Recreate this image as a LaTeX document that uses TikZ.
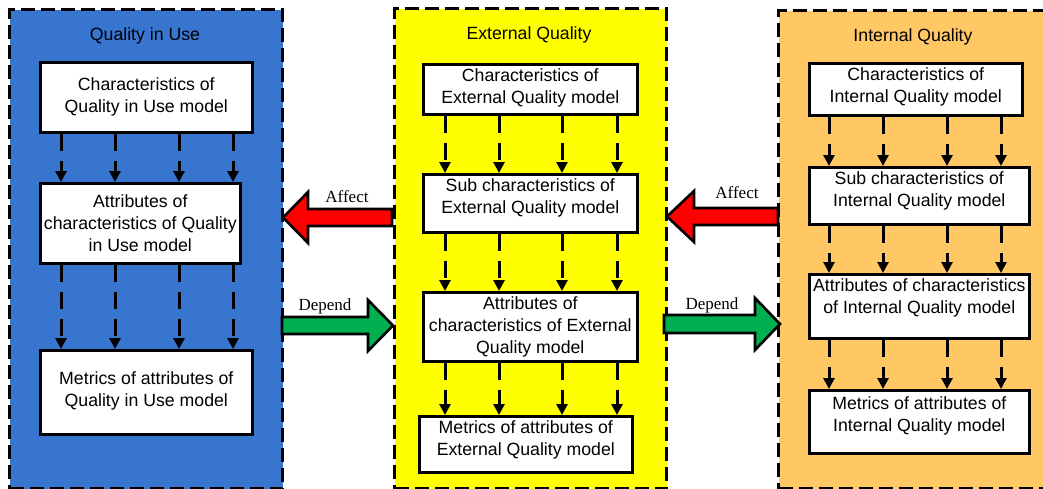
\documentclass[tikz,border=0pt]{standalone}
\usepackage{fontspec}
\setmainfont{Liberation Sans}
\newfontfamily\serifft{Liberation Serif}
\usetikzlibrary{arrows.meta}
\definecolor{qblue}{HTML}{3775CE}
\definecolor{qyellow}{HTML}{FFFF00}
\definecolor{qorange}{HTML}{FFC864}
\definecolor{qred}{HTML}{FF0000}
\definecolor{qgreen}{HTML}{00B050}
\begin{document}
\begin{tikzpicture}[x=1pt,y=-1pt,
 panel/.style={draw=black, line width=3.2pt, dash pattern=on 14pt off 6pt, anchor=north west, inner sep=0pt},
 box/.style={draw=black, fill=white, line width=2.6pt, anchor=north west, inner sep=0pt},
 txt/.style={align=center, font=\fontsize{17.7}{22}\selectfont, inner sep=0pt},
 ttl/.style={font=\fontsize{17.7}{22}\selectfont, inner sep=0pt},
 darr/.style={line width=3pt, dash pattern=on 17pt off 10pt, -{Triangle[length=11pt,width=11pt]}},
 blk/.style={draw=black, line width=2.6pt, line join=miter},
 lbl/.style={font=\serifft\fontsize{17}{20}\selectfont, inner sep=0pt}]
\useasboundingbox (0,0) rectangle (1043,488);
\clip (0,0) rectangle (1043,488);
% panels
\node[panel, fill=qblue, minimum width=273pt, minimum height=479pt] (P1) at (8,8) {};
\node[panel, fill=qyellow, minimum width=272pt, minimum height=480pt] (P2) at (393,7) {};
\node[panel, fill=qorange, minimum width=285pt, minimum height=478pt] (P3) at (777,9) {};
% titles
\node[ttl] (T1) at (145,36) {Quality in Use};
\node[ttl] (T2) at (529,35) {External Quality};
\node[ttl] (T3) at (913,37) {Internal Quality};
% blue boxes
\node[box, minimum width=212pt, minimum height=70pt] (B1) at (39,61) {};
\node[txt] (B1t) at (B1.center) {Characteristics of\\Quality in Use model};
\node[box, minimum width=200pt, minimum height=80pt] (B2) at (39,182) {};
\node[txt] (B2t) at (B2.center) {Attributes of\\characteristics of Quality\\in Use model};
\node[box, minimum width=212pt, minimum height=84pt] (B3) at (39,349) {};
\node[txt, yshift=1pt] (B3t) at (B3.center) {Metrics of attributes of\\Quality in Use model};
% yellow boxes
\node[box, minimum width=214pt, minimum height=50pt] (Y1) at (422,63) {};
\node[txt, yshift=1pt] (Y1t) at (Y1.center) {Characteristics of\\External Quality model};
\node[box, minimum width=214pt, minimum height=58pt] (Y2) at (422,173) {};
\node[txt, yshift=5pt] (Y2t) at (Y2.center) {Sub characteristics of\\External Quality model};
\node[box, minimum width=214pt, minimum height=69pt] (Y3) at (422,291) {};
\node[txt] (Y3t) at (Y3.center) {Attributes of\\characteristics of External\\Quality model};
\node[box, minimum width=213pt, minimum height=56pt] (Y4) at (418,415) {};
\node[txt, yshift=4pt] (Y4t) at (Y4.center) {Metrics of attributes of\\External Quality model};
% orange boxes
\node[box, minimum width=213pt, minimum height=52pt] (O1) at (808,62) {};
\node[txt, yshift=2pt] (O1t) at (O1.center) {Characteristics of\\Internal Quality model};
\node[box, minimum width=220pt, minimum height=57pt] (O2) at (808,166) {};
\node[txt, yshift=5pt] (O2t) at (O2.center) {Sub characteristics of\\Internal Quality model};
\node[box, minimum width=220pt, minimum height=64pt] (O3) at (808,273) {};
\node[txt, yshift=8pt] (O3t) at (O3.center) {Attributes of characteristics\\of Internal Quality model};
\node[box, minimum width=220pt, minimum height=63pt] (O4) at (808,389) {};
\node[txt, yshift=6pt] (O4t) at (O4.center) {Metrics of attributes of\\Internal Quality model};
% dashed arrows
\foreach \c in {61,115,179,233} {
  \draw[darr] (B1.south -| \c,0) -- (B2.north -| \c,0);
  \draw[darr] (B2.south -| \c,0) -- (B3.north -| \c,0);
}
\foreach \c in {445,499,562,617} {
  \draw[darr] (Y1.south -| \c,0) -- (Y2.north -| \c,0);
  \draw[darr] (Y2.south -| \c,0) -- (Y3.north -| \c,0);
  \draw[darr] (Y3.south -| \c,0) -- (Y4.north -| \c,0);
}
\foreach \c in {829,883,947,1001} {
  \draw[darr] (O1.south -| \c,0) -- (O2.north -| \c,0);
  \draw[darr] (O2.south -| \c,0) -- (O3.north -| \c,0);
  \draw[darr] (O3.south -| \c,0) -- (O4.north -| \c,0);
}
% block arrows
\draw[blk, fill=qred] (392,209) -- (308,209) -- (308,192) -- (283,217.5) -- (308,243) -- (308,226) -- (392,226) -- cycle;
\draw[blk, fill=qgreen] (282,317) -- (368,317) -- (368,300) -- (393,325.5) -- (368,351) -- (368,334) -- (282,334) -- cycle;
\draw[blk, fill=qred] (778,208) -- (694,208) -- (694,191) -- (667,216.5) -- (694,242) -- (694,225) -- (778,225) -- cycle;
\draw[blk, fill=qgreen] (664,315) -- (755,315) -- (755,298) -- (780,324) -- (755,350) -- (755,333) -- (664,333) -- cycle;
% labels
\node[lbl] (L1) at (347,197) {Affect};
\node[lbl] (L2) at (325,306) {Depend};
\node[lbl] (L3) at (737,193) {Affect};
\node[lbl] (L4) at (712,305) {Depend};
\end{tikzpicture}
\end{document}
